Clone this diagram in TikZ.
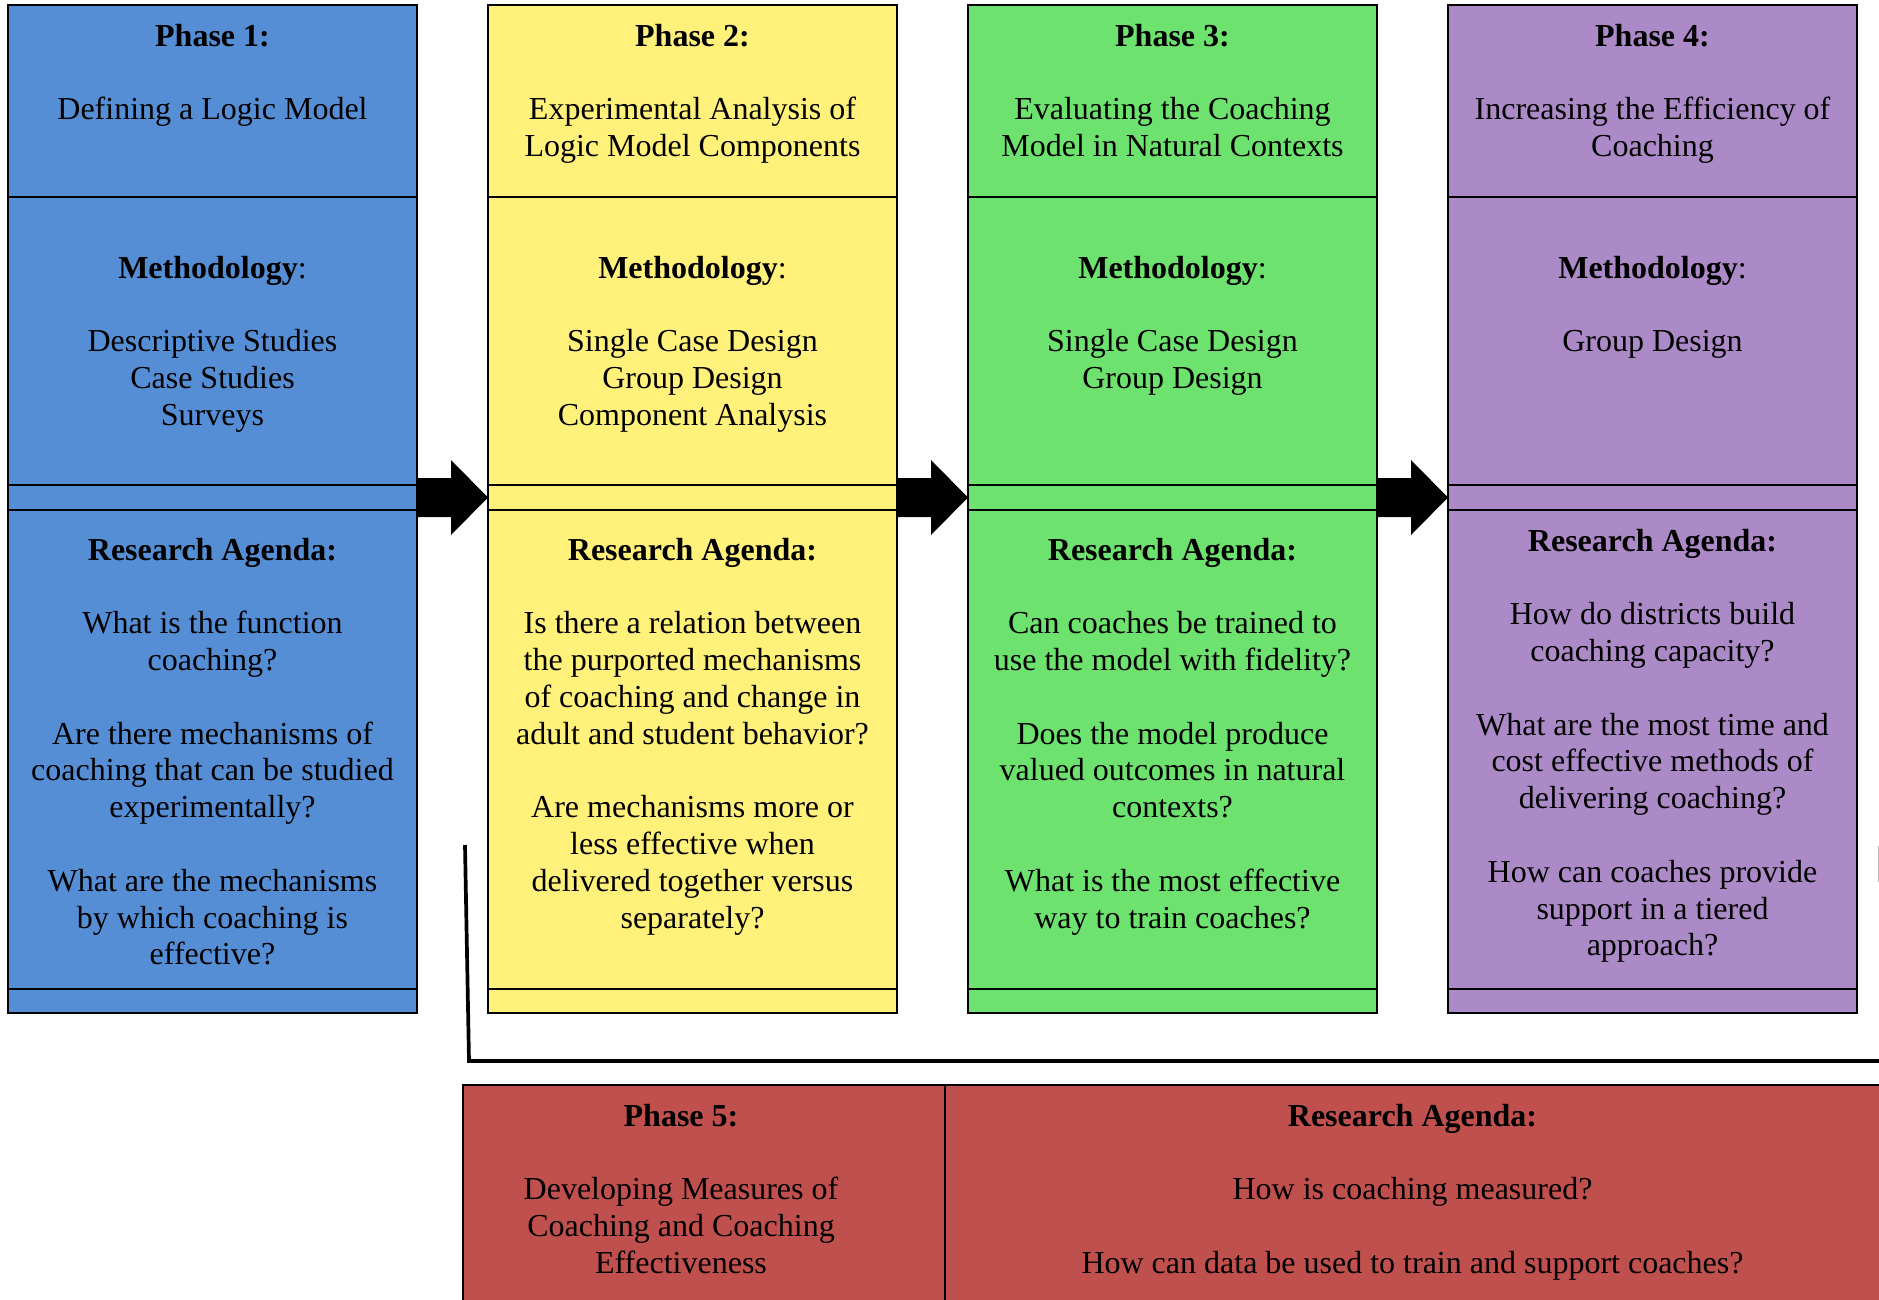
\documentclass[tikz,border=0pt]{standalone}
\usepackage{fontspec}
\setmainfont{Liberation Serif}
\usetikzlibrary{calc}
\definecolor{blueF}{HTML}{558ED5}
\definecolor{yellowF}{HTML}{FFF17A}
\definecolor{greenF}{HTML}{6EE26E}
\definecolor{purpleF}{HTML}{AC8AC7}
\definecolor{redF}{HTML}{C0504D}
\newcommand{\gap}{\\[18.4pt]}
\begin{document}
\begin{tikzpicture}[x=0.5pt,y=-0.5pt,
  phasebox/.style={draw=black, line width=1pt, rectangle, inner sep=0pt, outer sep=0pt,
    minimum width=204.5pt, minimum height=504pt},
  divider/.style={draw=black, line width=0.7pt},
  txt/.style={anchor=north, inner sep=0pt, align=center, font=\fontsize{16}{18.4}\selectfont},
  bracket/.style={line width=1.85pt}
]
\fill[white] (0,0) rectangle (1879,1300);
\useasboundingbox (0,0) rectangle (1879,1300);

% four phase columns
\node[phasebox, fill=blueF]   (p1) at (212.5,509) {};
\node[phasebox, fill=yellowF] (p2) at (692.5,509) {};
\node[phasebox, fill=greenF]  (p3) at (1172.5,509) {};
\node[phasebox, fill=purpleF] (p4) at (1652.5,509) {};

\foreach \p in {p1,p2,p3,p4}{
  \foreach \y in {197,485,510,989}{
    \draw[divider] (\p.west |- 0,\y) -- (\p.east |- 0,\y);
  }
}

% block arrows between the columns
\foreach \a/\b/\i in {p1/p2/1,p2/p3/2,p3/p4/3}{
  \coordinate (as\i) at (\a.east |- 0,497.5);
  \coordinate (ae\i) at (\b.west |- 0,497.5);
  \fill[black] ($(as\i)+(0,-19.5)$) -- ($(ae\i)+(-37,-19.5)$) -- ($(ae\i)+(-37,-37.5)$)
    -- (ae\i) -- ($(ae\i)+(-37,37.5)$) -- ($(ae\i)+(-37,19.5)$) -- ($(as\i)+(0,19.5)$) -- cycle;
}

% phase 1
\node[txt] (t1a) at (212.5,20) {\strut\textbf{Phase 1:}\gap Defining a Logic Model\strut};
\node[txt] (t1b) at (212.5,252) {\strut\textbf{Methodology}:\gap Descriptive Studies\\Case Studies\\Surveys\strut};
\node[txt] (t1c) at (212.5,534) {\strut\textbf{Research Agenda:}\gap What is the function\\coaching?\gap Are there mechanisms of\\coaching that can be studied\\experimentally?\gap What are the mechanisms\\by which coaching is\\effective?\strut};

% phase 2
\node[txt] (t2a) at (692.5,20) {\strut\textbf{Phase 2:}\gap Experimental Analysis of\\Logic Model Components\strut};
\node[txt] (t2b) at (692.5,252) {\strut\textbf{Methodology}:\gap Single Case Design\\Group Design\\Component Analysis\strut};
\node[txt] (t2c) at (692.5,534) {\strut\textbf{Research Agenda:}\gap Is there a relation between\\the purported mechanisms\\of coaching and change in\\adult and student behavior?\gap Are mechanisms more or\\less effective when\\delivered together versus\\separately?\strut};

% phase 3
\node[txt] (t3a) at (1172.5,20) {\strut\textbf{Phase 3:}\gap Evaluating the Coaching\\Model in Natural Contexts\strut};
\node[txt] (t3b) at (1172.5,252) {\strut\textbf{Methodology}:\gap Single Case Design\\Group Design\strut};
\node[txt] (t3c) at (1172.5,534) {\strut\textbf{Research Agenda:}\gap Can coaches be trained to\\use the model with fidelity?\gap Does the model produce\\valued outcomes in natural\\contexts?\gap What is the most effective\\way to train coaches?\strut};

% phase 4
\node[txt] (t4a) at (1652.5,20) {\strut\textbf{Phase 4:}\gap Increasing the Efficiency of\\Coaching\strut};
\node[txt] (t4b) at (1652.5,252) {\strut\textbf{Methodology}:\gap Group Design\strut};
\node[txt] (t4c) at (1652.5,525) {\strut\textbf{Research Agenda:}\gap How do districts build\\coaching capacity?\gap What are the most time and\\cost effective methods of\\delivering coaching?\gap How can coaches provide\\support in a tiered\\approach?\strut};

% bracket above phase 5
\coordinate (bt) at (465,845);
\coordinate (bc) at (469,1061);
\coordinate (be) at (1895,1061);
\draw[bracket] (bt) -- (bc) -- (be);
\coordinate (rt) at (1878.5,846);
\coordinate (rb) at (1878.5,882);
\draw[gray!60, line width=0.7pt] (rt) -- (rb);

% phase 5
\node[draw=black, line width=1pt, fill=redF, inner sep=0pt, outer sep=0pt, anchor=north west,
  minimum width=715pt, minimum height=112pt] (p5) at (463,1085) {};
\draw[divider] (945,0 |- p5.north) -- (945,0 |- p5.south);
\node[txt] (t5a) at (681,1100) {\strut\textbf{Phase 5:}\gap Developing Measures of\\Coaching and Coaching\\Effectiveness\strut};
\node[txt] (t5b) at (1412.5,1100) {\strut\textbf{Research Agenda:}\gap How is coaching measured?\gap How can data be used to train and support coaches?\strut};
\end{tikzpicture}
\end{document}
